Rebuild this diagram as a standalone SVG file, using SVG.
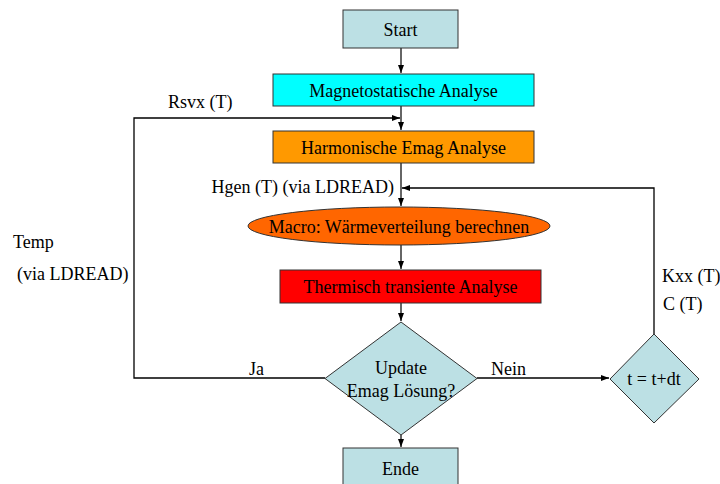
<svg xmlns="http://www.w3.org/2000/svg" width="720" height="484" viewBox="0 0 720 484">
<defs>
<marker id="ah" markerWidth="8" markerHeight="6" refX="8" refY="3" orient="auto" markerUnits="userSpaceOnUse">
<path d="M0,0 L8,3 L0,6 Z" fill="#000"/>
</marker>
<style>
text{font-family:"Liberation Serif","Times New Roman",serif;font-size:18px;fill:#000}
.c{text-anchor:middle}
.box{stroke:#333;stroke-width:1}
.v{stroke:#666;stroke-width:2;fill:none}
.l{stroke:#000;stroke-width:1.3;fill:none}
</style>
</defs>
<rect width="720" height="484" fill="#fff"/>
<g id="connectors">
<line class="v" x1="401" y1="48" x2="401" y2="73" marker-end="url(#ah)"/>
<line class="v" x1="401" y1="106" x2="401" y2="130" marker-end="url(#ah)"/>
<line class="v" x1="401" y1="163" x2="401" y2="206" marker-end="url(#ah)"/>
<line class="v" x1="401" y1="245" x2="401" y2="269" marker-end="url(#ah)"/>
<line class="v" x1="401" y1="303" x2="401" y2="321" marker-end="url(#ah)"/>
<line class="v" x1="401" y1="435" x2="401" y2="447" marker-end="url(#ah)"/>
<polyline class="l" points="325,378 134,378 134,118 400,118" marker-end="url(#ah)"/>
<line class="l" x1="477" y1="378" x2="609" y2="378" marker-end="url(#ah)"/>
<polyline class="l" points="654,334 654,188 402,188" marker-end="url(#ah)"/>
<text x="168" y="108">Rsvx (T)</text>
<text x="394" y="193" text-anchor="end">Hgen (T) (via LDREAD)</text>
<text x="13" y="248">Temp</text>
<text x="17" y="280">(via LDREAD)</text>
<text x="662" y="282">Kxx (T)</text>
<text x="663" y="310">C (T)</text>
<text x="249" y="375">Ja</text>
<text x="491" y="375">Nein</text>
</g>
<g id="start">
<rect class="box" x="343" y="10" width="115" height="38" fill="#BCE0E4"/>
<text class="c" x="400.5" y="36">Start</text>
</g>
<g id="magneto">
<rect class="box" x="273" y="74" width="261" height="32" fill="#00FFFF"/>
<text class="c" x="403.5" y="97">Magnetostatische Analyse</text>
</g>
<g id="harmonic">
<rect class="box" x="273" y="131" width="261" height="32" fill="#FF9900"/>
<text class="c" x="403.5" y="154">Harmonische Emag Analyse</text>
</g>
<g id="macro">
<ellipse class="box" cx="399" cy="226" rx="151" ry="19" fill="#FF6600"/>
<text class="c" x="399" y="233">Macro: Wärmeverteilung berechnen</text>
</g>
<g id="thermal">
<rect class="box" x="280" y="270" width="261" height="33" fill="#FF0000"/>
<text class="c" x="410.5" y="293">Thermisch transiente Analyse</text>
</g>
<g id="decision">
<polygon class="box" points="401,322 477,378.5 401,435 325,378.5" fill="#BCE0E4"/>
<text class="c" x="401" y="374">Update</text>
<text class="c" x="401" y="397">Emag Lösung?</text>
</g>
<g id="timestep">
<polygon class="box" points="654,334 699,379 654,423 610,379" fill="#BCE0E4"/>
<text class="c" x="654" y="385">t = t+dt</text>
</g>
<g id="ende">
<rect class="box" x="343" y="448" width="115" height="40" fill="#BCE0E4"/>
<text class="c" x="400.5" y="475">Ende</text>
</g>
</svg>
